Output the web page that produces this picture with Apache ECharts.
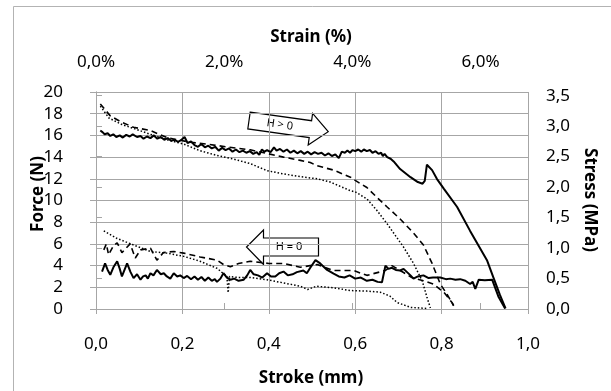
<!DOCTYPE html>
<html>
<head>
<meta charset="utf-8">
<script src="https://cdn.jsdelivr.net/npm/echarts@6/dist/echarts.min.js"></script>
<style>
html,body{margin:0;padding:0;background:#fff;}
#chart{width:611px;height:391px;}
</style>
</head>
<body>
<div id="chart"></div>
<script>
// ---- data (stroke in mm, force in N) ----
const upperSolid = [[0.01,16.45],[0.015,16.3],[0.02,16.1],[0.027,16.2],[0.033,15.95],[0.04,16.1],[0.047,15.85],[0.055,16.0],[0.062,15.8],[0.07,16.05],[0.078,15.9],[0.085,16.1],[0.095,15.85],[0.103,15.95],[0.11,15.7],[0.118,15.9],[0.126,15.75],[0.134,16.0],[0.142,15.7],[0.15,15.85],[0.158,15.6],[0.166,15.75],[0.174,15.5],[0.182,15.6],[0.19,15.4],[0.198,15.6],[0.205,15.85],[0.212,15.3],[0.22,15.45],[0.228,15.1],[0.236,14.95],[0.244,15.2],[0.252,14.9],[0.26,15.05],[0.268,14.8],[0.276,14.95],[0.284,14.6],[0.292,14.85],[0.3,14.65],[0.308,14.8],[0.316,14.5],[0.324,14.7],[0.332,14.45],[0.34,14.6],[0.348,14.4],[0.356,14.55],[0.364,14.3],[0.372,14.45],[0.378,14.2],[0.384,14.7],[0.39,14.5],[0.396,14.65],[0.404,14.45],[0.412,14.9],[0.418,14.6],[0.426,14.75],[0.434,14.5],[0.442,14.7],[0.45,14.4],[0.458,14.6],[0.466,14.35],[0.474,14.55],[0.482,14.3],[0.49,14.5],[0.498,14.25],[0.506,14.45],[0.514,14.3],[0.522,14.4],[0.53,14.15],[0.538,14.35],[0.546,14.1],[0.554,14.25],[0.562,13.9],[0.566,13.8],[0.569,14.5],[0.576,14.4],[0.582,14.6],[0.588,14.4],[0.594,14.65],[0.6,14.55],[0.607,14.7],[0.614,14.5],[0.62,14.7],[0.627,14.55],[0.634,14.65],[0.64,14.4],[0.647,14.55],[0.654,14.3],[0.66,14.4],[0.664,14.1],[0.668,14.3],[0.674,14.0],[0.682,13.85],[0.689,13.6],[0.704,12.9],[0.728,12.15],[0.745,11.7],[0.756,11.55],[0.761,11.8],[0.766,13.3],[0.778,12.8],[0.789,12.0],[0.805,11.1],[0.836,9.4],[0.866,7.2],[0.905,4.5],[0.92,2.9],[0.935,1.3],[0.948,0.05]];
const upperDashed = [[0.01,18.9],[0.033,17.8],[0.06,17.2],[0.087,16.75],[0.126,16.45],[0.164,15.8],[0.218,15.37],[0.257,15.2],[0.3,14.95],[0.357,14.67],[0.4,14.3],[0.434,14.0],[0.473,13.7],[0.496,13.5],[0.512,13.2],[0.55,12.8],[0.589,12.15],[0.6,11.85],[0.627,11.2],[0.65,10.3],[0.674,9.4],[0.704,8.3],[0.735,7.0],[0.758,5.9],[0.778,4.2],[0.797,2.3],[0.812,1.4],[0.828,0.3]];
const upperDotted = [[0.01,18.7],[0.03,17.6],[0.06,17.0],[0.09,16.6],[0.126,16.1],[0.164,15.6],[0.203,15.2],[0.24,14.6],[0.28,14.15],[0.32,13.8],[0.357,13.4],[0.396,12.75],[0.434,12.45],[0.473,12.2],[0.512,12.0],[0.542,11.7],[0.589,10.9],[0.6,10.8],[0.627,10.15],[0.65,9.1],[0.674,7.85],[0.689,7.0],[0.712,5.7],[0.735,4.2],[0.755,2.6],[0.766,1.1],[0.774,0.1]];
const lowerSolid = [[0.014,3.45],[0.021,4.2],[0.027,3.6],[0.033,3.15],[0.041,3.9],[0.049,4.4],[0.055,3.7],[0.06,3.0],[0.066,3.6],[0.072,4.2],[0.08,3.4],[0.087,2.85],[0.095,3.2],[0.103,2.7],[0.109,3.0],[0.115,3.1],[0.12,2.8],[0.126,3.3],[0.133,3.1],[0.141,3.6],[0.15,3.2],[0.157,3.3],[0.164,3.0],[0.172,2.8],[0.18,3.3],[0.188,3.0],[0.195,3.1],[0.203,2.85],[0.211,3.05],[0.22,2.75],[0.228,3.0],[0.236,2.7],[0.244,2.95],[0.252,2.6],[0.26,2.9],[0.268,2.6],[0.275,2.75],[0.28,2.5],[0.288,2.8],[0.295,3.3],[0.303,2.9],[0.311,2.7],[0.32,2.8],[0.33,2.6],[0.342,2.7],[0.35,3.1],[0.357,3.6],[0.365,3.2],[0.375,3.1],[0.385,2.9],[0.396,3.3],[0.405,3.0],[0.415,3.0],[0.424,3.3],[0.434,3.45],[0.444,3.1],[0.455,3.2],[0.465,3.4],[0.48,3.55],[0.488,3.3],[0.496,3.8],[0.508,4.5],[0.519,4.2],[0.527,3.9],[0.535,3.6],[0.55,3.25],[0.562,3.0],[0.575,2.9],[0.587,3.1],[0.6,2.8],[0.613,2.9],[0.627,2.6],[0.64,2.7],[0.652,2.5],[0.662,2.47],[0.67,4.0],[0.677,3.7],[0.685,3.8],[0.694,3.6],[0.704,3.55],[0.712,3.7],[0.72,3.4],[0.728,3.1],[0.735,2.8],[0.745,3.0],[0.758,3.1],[0.77,2.85],[0.78,2.9],[0.797,2.9],[0.81,2.75],[0.82,2.8],[0.832,2.7],[0.843,2.75],[0.855,2.6],[0.866,2.3],[0.872,2.5],[0.878,1.85],[0.886,2.7],[0.9,2.65],[0.917,2.7],[0.932,1.1],[0.947,0.05]];
const lowerDashed = [[0.018,5.45],[0.024,6.0],[0.029,5.0],[0.04,5.8],[0.049,6.1],[0.06,5.2],[0.079,6.0],[0.091,4.7],[0.103,5.45],[0.126,5.6],[0.141,4.5],[0.156,5.2],[0.18,5.3],[0.203,5.15],[0.241,4.8],[0.28,4.5],[0.295,4.1],[0.311,3.9],[0.33,4.2],[0.357,4.4],[0.4,4.2],[0.434,4.2],[0.473,3.85],[0.512,4.1],[0.55,3.55],[0.596,3.55],[0.627,3.1],[0.67,3.55],[0.685,4.0],[0.704,3.55],[0.731,2.9],[0.758,2.6],[0.781,2.3],[0.805,1.55],[0.824,0.6],[0.828,0.3]];
const lowerDotted = [[0.018,7.2],[0.049,6.5],[0.087,5.9],[0.126,5.3],[0.164,5.15],[0.203,4.85],[0.241,4.4],[0.28,3.75],[0.303,3.0],[0.306,1.5],[0.309,3.0],[0.33,2.9],[0.357,2.9],[0.396,2.7],[0.434,2.4],[0.473,2.1],[0.49,1.8],[0.51,2.1],[0.55,1.95],[0.589,1.7],[0.627,1.65],[0.658,1.55],[0.68,1.2],[0.697,0.6],[0.728,0.15],[0.766,0.05]];

// ---- axes ----
const strokeTicks = [0, 0.2, 0.4, 0.6, 0.8, 1.0];
const forceTicks = [0, 2, 4, 6, 8, 10, 12, 14, 16, 18, 20];
const stressTicks = [0, 0.5, 1.0, 1.5, 2.0, 2.5, 3.0, 3.5];
const strainTicks = [0, 2, 4, 6];
const strainMax = 6.74;   // % strain at 1.0 mm stroke
const stressMax = 3.56;   // MPa at 20 N

const xTitle = 'Stroke (mm)';
const x2Title = 'Strain (%)';
const yTitle = 'Force (N)';
const y2Title = 'Stress (MPa)';
const arrowUpText = 'H > 0';
const arrowLowText = 'H = 0';

const FONT = '"Noto Sans", "Open Sans", sans-serif';
const GRAY = '#a6a6a6';
const comma = (v, d) => v.toFixed(d).replace('.', ',');

const chart = echarts.init(document.getElementById('chart'), null, {renderer: 'canvas'});

function lineSeries(data, type, width) {
  return {
    type: 'line', data: data, xAxisIndex: 0, yAxisIndex: 0,
    showSymbol: false, symbol: 'none', animation: false, silent: true,
    lineStyle: {color: '#000', width: width, type: type, cap: 'butt'}
  };
}

const deg = Math.PI / 180;
const option = {
  animation: false,
  backgroundColor: '#fff',
  grid: {left: 96, top: 92, right: 83, bottom: 82, containLabel: false},
  xAxis: [
    {
      type: 'value', position: 'bottom', min: 0, max: 1, interval: 0.2,
      axisLine: {show: true, lineStyle: {color: GRAY, width: 1}},
      axisTick: {show: true, length: 5, lineStyle: {color: GRAY}, customValues: strokeTicks},
      splitLine: {show: true, lineStyle: {color: GRAY, width: 1}},
      axisLabel: {customValues: strokeTicks, margin: 27, color: '#000', fontFamily: FONT, fontSize: 17,
        formatter: v => comma(v, 1)}
    },
    {
      type: 'value', position: 'top', min: 0, max: strainMax, interval: 2,
      axisLine: {show: true, lineStyle: {color: GRAY, width: 1}},
      axisTick: {show: true, length: 6, lineStyle: {color: GRAY}, customValues: strainTicks},
      splitLine: {show: false},
      axisLabel: {customValues: strainTicks, margin: 21, color: '#000', fontFamily: FONT, fontSize: 17,
        formatter: v => (Math.abs(v % 2) < 1e-9 ? comma(v, 1) + '%' : '')}
    }
  ],
  yAxis: [
    {
      type: 'value', position: 'left', min: 0, max: 20, interval: 2,
      axisLine: {show: true, lineStyle: {color: GRAY, width: 1}},
      axisTick: {show: true, length: 6, lineStyle: {color: GRAY}, customValues: forceTicks},
      splitLine: {show: true, lineStyle: {color: GRAY, width: 1}},
      axisLabel: {customValues: forceTicks, margin: 33, color: '#000', fontFamily: FONT, fontSize: 17,
        formatter: v => String(v)}
    },
    {
      type: 'value', position: 'right', min: 0, max: stressMax, interval: 0.5,
      axisLine: {show: true, lineStyle: {color: GRAY, width: 1}},
      axisTick: {show: true, length: 6, lineStyle: {color: GRAY}, customValues: stressTicks},
      splitLine: {show: false},
      axisLabel: {customValues: stressTicks, margin: 18, color: '#000', fontFamily: FONT, fontSize: 17,
        formatter: v => (Math.abs((v * 2) - Math.round(v * 2)) < 1e-9 ? comma(v, 1) : '')}
    }
  ],
  series: [
    lineSeries(upperDotted, [1.5, 2], 1.5),
    lineSeries(lowerDotted, [1.5, 2], 1.5),
    lineSeries(upperDashed, [6, 4], 1.6),
    lineSeries(lowerDashed, [6, 4], 1.6),
    lineSeries(upperSolid, 'solid', 2),
    lineSeries(lowerSolid, 'solid', 2)
  ],
  graphic: [
    {type: 'rect', shape: {x: 13.5, y: 6.5, width: 640, height: 420}, style: {fill: null, stroke: '#b3b3b3', lineWidth: 1}, silent: true, z: -1},
    {type: 'text', x: 311, y: 37, style: {text: x2Title, font: 'bold 17px ' + FONT, fill: '#000', textAlign: 'center', textVerticalAlign: 'middle'}},
    {type: 'text', x: 311, y: 378, style: {text: xTitle, font: 'bold 17px ' + FONT, fill: '#000', textAlign: 'center', textVerticalAlign: 'middle'}},
    {type: 'text', x: 38, y: 194, rotation: Math.PI / 2, style: {text: yTitle, font: 'bold 17px ' + FONT, fill: '#000', textAlign: 'center', textVerticalAlign: 'middle'}},
    {type: 'text', x: 590, y: 200, rotation: -Math.PI / 2, style: {text: y2Title, font: 'bold 17px ' + FONT, fill: '#000', textAlign: 'center', textVerticalAlign: 'middle'}},
    {
      type: 'group', x: 249, y: 120.5, rotation: -8 * deg, z: 100,
      children: [
        {type: 'polygon', shape: {points: [[0,-8.5],[62,-8.5],[62,-16],[80,0],[62,16],[62,8.5],[0,8.5]]},
          style: {fill: '#fff', stroke: '#000', lineWidth: 1.2}},
        {type: 'text', x: 31, y: 0, style: {text: arrowUpText, font: '11px ' + FONT, fill: '#000', textAlign: 'center', textVerticalAlign: 'middle'}}
      ]
    },
    {
      type: 'group', x: 0, y: 0, z: 100,
      children: [
        {type: 'polygon', shape: {points: [[318.5,238],[263.5,238],[263.5,230],[246.5,247],[263.5,264.5],[263.5,256],[318.5,256]]},
          style: {fill: '#fff', stroke: '#000', lineWidth: 1.2}},
        {type: 'text', x: 289, y: 247, style: {text: arrowLowText, font: '11px ' + FONT, fill: '#000', textAlign: 'center', textVerticalAlign: 'middle'}}
      ]
    }
  ]
};
chart.setOption(option);
</script>
</body>
</html>
